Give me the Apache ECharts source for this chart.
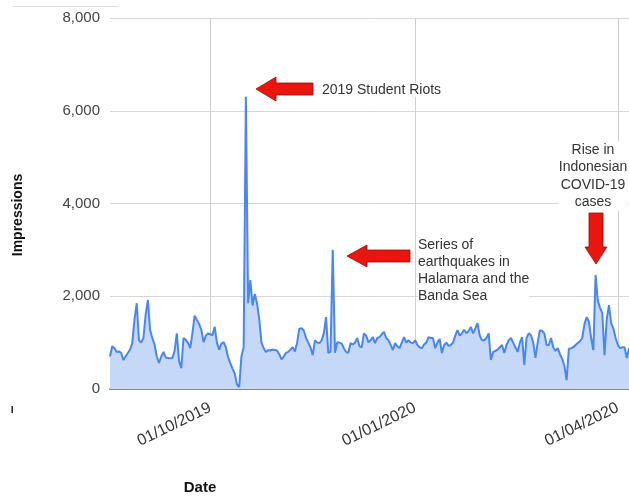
<!DOCTYPE html>
<html>
<head>
<meta charset="utf-8">
<script src="https://cdn.jsdelivr.net/npm/echarts@6/dist/echarts.min.js"></script>
<style>
  html, body { margin: 0; padding: 0; background: #fff; }
  #chart { width: 629px; height: 499px; }
</style>
</head>
<body>
<div id="chart"></div>
<script>
// daily impressions, first day 17/08/2019
const startDate = [2019, 7, 17];
const impressions = [
  700, 920, 880, 800, 810, 780, 625, 700, 775, 850,
  990, 1500, 1850, 1050, 1000, 1100, 1600, 1920, 1270, 1100,
  960, 700, 560, 700, 800, 680, 670, 660, 670, 820,
  1200, 600, 450, 1100, 1060, 1000, 880, 1200, 1580, 1490,
  1400, 1280, 1010, 1150, 1200, 1180, 1160, 1340, 1000, 850,
  980, 1010, 900, 690, 560, 440, 330, 100, 40, 700,
  900, 6300, 1850, 2350, 1800, 2050, 1850, 1500, 1000, 880,
  800, 840, 830, 850, 840, 830, 750, 640, 700, 780,
  800, 850, 900, 810, 1000, 1300, 1310, 1260, 1100, 1000,
  900, 730, 1050, 1000, 990, 1050, 1200, 1550, 780, 800,
  3000, 780, 1010, 1000, 980, 880, 800, 780, 990, 960,
  1000, 1100, 920, 900, 1200, 1150, 1010, 1050, 1120, 990,
  1100, 1120, 1180, 1230, 1100, 1050, 950, 840, 990, 920,
  880, 1000, 1120, 1000, 1050, 1000, 990, 1050, 950, 900,
  880, 960, 1000, 1120, 1100, 1100, 880, 1000, 1080, 775,
  950, 1000, 930, 950, 1000, 1150, 1270, 1150, 1200, 1280,
  1200, 1250, 1340, 1200, 1300, 1420, 1150, 1050, 1050, 1100,
  1200, 625, 800, 820, 850, 900, 950, 775, 950, 1050,
  1100, 1000, 900, 800, 1000, 1120, 520, 1100, 1200, 1160,
  1000, 670, 1000, 1270, 1250, 1200, 950, 950, 1100, 900,
  820, 880, 750, 650, 500, 190, 870, 880, 900, 950,
  990, 1030, 1100, 1400, 1550, 1450, 1100, 840, 2460, 1900,
  1750, 1640, 730, 1500, 1810, 1420, 1300, 1100, 950, 880,
  900, 900, 670, 880
];
const tickDates = [[2019, 9, 1], [2020, 0, 1], [2020, 3, 1]];
const yTicks = [0, 2000, 4000, 6000, 8000];

const FONT = "'Liberation Sans', Arial, sans-serif";
const DAY = 86400000;
const t0 = Date.UTC(startDate[0], startDate[1], startDate[2]);

// x is counted in days from the first date
const seriesData = impressions.map((v, i) => [i, v]);
const tickValues = tickDates.map(t => Math.round((Date.UTC(t[0], t[1], t[2]) - t0) / DAY));

function pad(n) { return n < 10 ? '0' + n : '' + n; }
function fmtDate(i) {
  const d = new Date(t0 + i * DAY);
  return pad(d.getUTCDate()) + '/' + pad(d.getUTCMonth() + 1) + '/' + d.getUTCFullYear();
}

// block arrows for the annotations
function leftArrow(tx, ty, len, hl, hh, sh) {
  return [[tx, ty], [tx + hl, ty - hh], [tx + hl, ty - sh], [tx + len, ty - sh],
          [tx + len, ty + sh], [tx + hl, ty + sh], [tx + hl, ty + hh]];
}
function downArrow(tx, ty, len, hl, hh, sh) {
  return [[tx, ty], [tx - hh, ty - hl], [tx - sh, ty - hl], [tx - sh, ty - len],
          [tx + sh, ty - len], [tx + sh, ty - hl], [tx + hh, ty - hl]];
}
const arrowStyle = { fill: '#e8160e', stroke: '#9a0a06', lineWidth: 0.8 };
const noteStyle = { fill: '#333', font: '14px ' + FONT, backgroundColor: '#fff' };

const chart = echarts.init(document.getElementById('chart'));
chart.setOption({
  animation: false,
  backgroundColor: '#fff',
  grid: { left: 110, right: 0, top: 18, bottom: 110 },
  xAxis: {
    type: 'value',
    min: 0,
    max: impressions.length - 1,
    axisLine: { show: true, lineStyle: { color: '#7f8a99', width: 2 } },
    axisTick: { show: false, customValues: tickValues },
    axisLabel: {
      customValues: tickValues,
      formatter: fmtDate,
      rotate: 26,
      margin: 18,
      color: '#333',
      fontSize: 16,
      fontFamily: FONT,
      showMinLabel: true,
      showMaxLabel: true
    },
    splitLine: { show: true, lineStyle: { color: '#cfcfcf', width: 1 } }
  },
  yAxis: {
    type: 'value',
    min: yTicks[0],
    max: yTicks[yTicks.length - 1],
    interval: 2000,
    axisLine: { show: false },
    axisTick: { show: false },
    axisLabel: {
      formatter: v => v.toLocaleString('en-US'),
      color: '#444',
      fontSize: 15,
      margin: 10,
      fontFamily: FONT
    },
    splitLine: { lineStyle: { color: '#d6d6d6', width: 1 } }
  },
  series: [{
    type: 'line',
    data: seriesData,
    showSymbol: false,
    lineStyle: { color: '#4a86f0', width: 2 },
    areaStyle: { color: '#c5d8f7', opacity: 1 },
    z: 3
  }],
  graphic: [
    { type: 'text', x: 18, y: 215, rotation: Math.PI / 2, style: { text: 'Impressions', fill: '#111', font: 'bold 14px ' + FONT, align: 'center', verticalAlign: 'middle' }, z: 10 },
    { type: 'text', style: { text: 'Date', x: 200, y: 488, fill: '#111', font: 'bold 15px ' + FONT, align: 'center', verticalAlign: 'middle' }, z: 10 },
    // faint edge marks left over in the source image
    { type: 'line', shape: { x1: 12, y1: 6.5, x2: 118, y2: 6.5 }, style: { stroke: '#dedede', lineWidth: 1 }, z: 1 },
    { type: 'rect', shape: { x: 11.5, y: 406, width: 1.5, height: 7 }, style: { fill: '#222' }, z: 1 },

    { type: 'polygon', shape: { points: leftArrow(256, 89, 57, 20, 12, 6) }, style: arrowStyle, z: 10 },
    { type: 'text', style: Object.assign({ text: '2019 Student Riots', x: 322, y: 90, verticalAlign: 'middle' }, noteStyle), z: 10 },

    { type: 'polygon', shape: { points: leftArrow(347, 256, 63, 20, 11, 6) }, style: arrowStyle, z: 10 },
    { type: 'text', style: Object.assign({ text: 'Series of\nearthquakes in\nHalamara and the\nBanda Sea', x: 418, y: 237, lineHeight: 17 }, noteStyle), z: 10 },

    { type: 'polygon', shape: { points: downArrow(596, 264, 51, 17, 11, 7) }, style: arrowStyle, z: 10 },
    { type: 'text', style: Object.assign({ text: 'Rise in\nIndonesian\nCOVID-19\ncases', x: 593, y: 141, lineHeight: 17.5, align: 'center' }, noteStyle), z: 10 }
  ]
});
</script>
</body>
</html>
